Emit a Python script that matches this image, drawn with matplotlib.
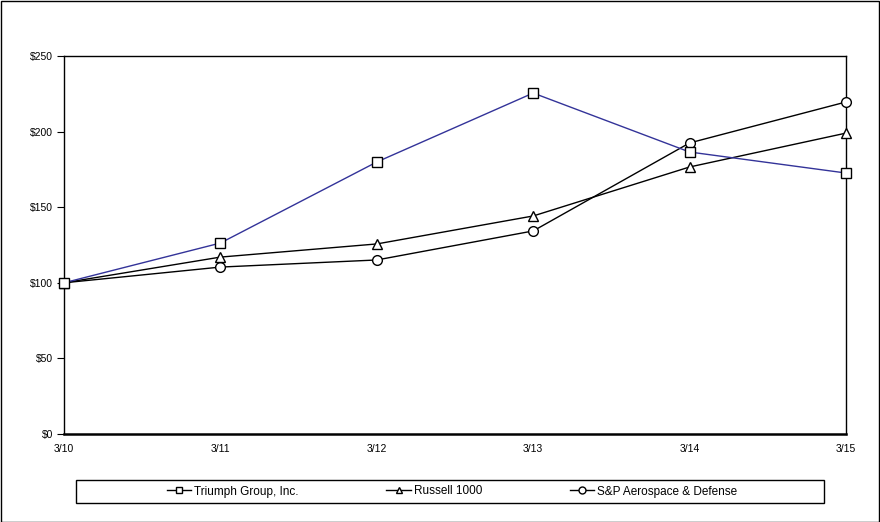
import matplotlib
matplotlib.use("Agg")
import matplotlib.pyplot as plt
from matplotlib.patches import Rectangle
from matplotlib.lines import Line2D

plt.rcParams['font.family'] = ['Liberation Sans', 'DejaVu Sans']

periods = ["3/10", "3/11", "3/12", "3/13", "3/14", "3/15"]
triumph = [100, 126.3, 179.9, 225.5, 186.5, 172.6]
russell = [100, 117.0, 125.7, 144.2, 176.6, 199.0]
sp_aero = [100, 110.4, 115.1, 134.3, 192.5, 219.6]
yticks = [0, 50, 100, 150, 200, 250]
ytick_labels = ["$0", "$50", "$100", "$150", "$200", "$250"]

fig = plt.figure(figsize=(8.8, 5.22), dpi=100)
ax = fig.add_axes([64/880, 1-434/522, (846-64)/880, (434-56)/522])

x = list(range(len(periods)))
mk = dict(markerfacecolor='white', markeredgecolor='black', markeredgewidth=1.0)
l1, = ax.plot(x, triumph, color='#333399', lw=1.0, marker='s', markersize=7, label='Triumph Group, Inc.', clip_on=False, zorder=5, **mk)
l2, = ax.plot(x, russell, color='black', lw=1.0, marker='^', markersize=7.5, label='Russell 1000', clip_on=False, zorder=4, **mk)
l3, = ax.plot(x, sp_aero, color='black', lw=1.0, marker='o', markersize=7, label='S&P Aerospace & Defense', clip_on=False, zorder=3, **mk)

ax.set_xlim(0, 5)
ax.set_ylim(0, 250)
ax.set_xticks(x)
ax.set_xticklabels(periods)
ax.set_yticks(yticks)
ax.set_yticklabels(ytick_labels)
ax.tick_params(axis='x', length=0, pad=7, labelsize=7.5)
ax.tick_params(axis='y', length=5, width=0.8, direction='out', pad=3, labelsize=7.5)
for s in ['top', 'right', 'left']:
    ax.spines[s].set_linewidth(1.0)
ax.spines['bottom'].set_linewidth(1.8)

h1 = Line2D([], [], color='black', lw=1.0, marker='s', markersize=5, **mk)
h2 = Line2D([], [], color='black', lw=1.0, marker='^', markersize=5, **mk)
h3 = Line2D([], [], color='black', lw=1.0, marker='o', markersize=5, **mk)
fig.legend([h1, h2, h3], [l1.get_label(), l2.get_label(), l3.get_label()],
           loc='center', bbox_to_anchor=(452/880, 1-491.5/522), ncol=3,
           frameon=False, fontsize=8.5, handlelength=2.1, handletextpad=0.25,
           columnspacing=7.4)

fig.patches.append(Rectangle((76/880, 1-503/522), (824-76)/880, 23/522,
                             transform=fig.transFigure, fill=False, lw=1.0, ec='black'))
fig.patches.append(Rectangle((0.5/880, 0.5/522), 878.5/880, 520.5/522,
                             transform=fig.transFigure, fill=False, lw=1.0, ec='black'))

fig.savefig("out.png", dpi=100)
